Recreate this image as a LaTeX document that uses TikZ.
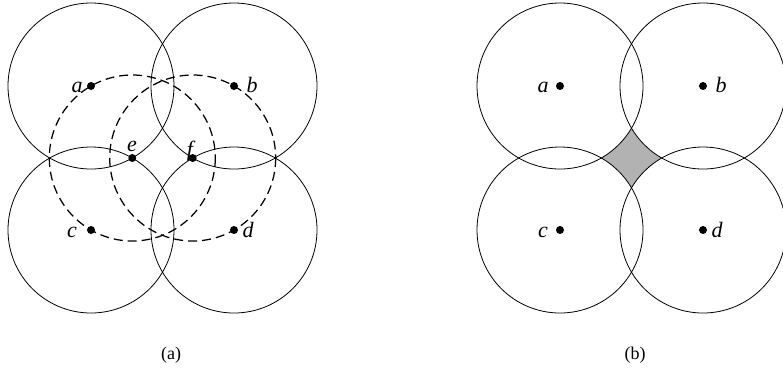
\documentclass[tikz,border=0pt]{standalone}
\usepackage{fontspec}
\setmainfont{Liberation Serif}
\begin{document}
\begin{tikzpicture}[x=1pt,y=-1pt,
  ring/.style={draw, line width=0.8pt},
  dring/.style={draw, line width=1.25pt, dash pattern=on 9pt off 5pt},
  dot/.style={circle, fill, inner sep=0pt, minimum size=8pt},
  lab/.style={font=\fontsize{22}{22}\selectfont\itshape, inner sep=0pt, anchor=base},
  captext/.style={font=\fontsize{18}{18}\selectfont, inner sep=0pt, anchor=base}]
\useasboundingbox (0,0) rectangle (783,368);
\fill[white] (0,0) rectangle (783,368);
% ---------- panel (a) ----------
\coordinate (A) at (91,86);
\coordinate (B) at (234,86);
\coordinate (C) at (91,230);
\coordinate (D) at (234,230);
\coordinate (E) at (132.3,158);
\coordinate (F) at (192.7,158);
\foreach \p in {A,B,C,D} \draw[ring] (\p) circle[radius=83];
\foreach \p in {E,F} \draw[dring] (\p) circle[radius=83];
\node[dot] (a1) at (A) {};
\node[dot] (b1) at (B) {};
\node[dot] (c1) at (C) {};
\node[dot] (d1) at (D) {};
\node[dot] (e1) at (E) {};
\node[dot] (f1) at (F) {};
\node[lab] (la1) at (77,92) {a};
\node[lab] (lb1) at (252,92) {b};
\node[lab] (lc1) at (72,237) {c};
\node[lab] (ld1) at (248,237) {d};
\node[lab] (le1) at (132,151) {e};
\node[lab] (lf1) at (190,156) {f};
\node[captext] (capa) at (171,359) {(a)};
% ---------- panel (b) ----------
\coordinate (A2) at (560,86);
\coordinate (B2) at (703,86);
\coordinate (C2) at (560,230);
\coordinate (D2) at (703,230);
\begin{scope}
  \clip (595,120) rectangle (668,196);
  \fill[black!30] (595,120) rectangle (668,196);
  \foreach \p in {A2,B2,C2,D2} \fill[white] (\p) circle[radius=83];
\end{scope}
\foreach \p in {A2,B2,C2,D2} \draw[ring] (\p) circle[radius=83];
\node[dot] (a2) at (A2) {};
\node[dot] (b2) at (B2) {};
\node[dot] (c2) at (C2) {};
\node[dot] (d2) at (D2) {};
\node[lab] (la2) at (543,92) {a};
\node[lab] (lb2) at (721,92) {b};
\node[lab] (lc2) at (543,237) {c};
\node[lab] (ld2) at (717,237) {d};
\node[captext] (capb) at (635,359) {(b)};
\end{tikzpicture}
\end{document}
